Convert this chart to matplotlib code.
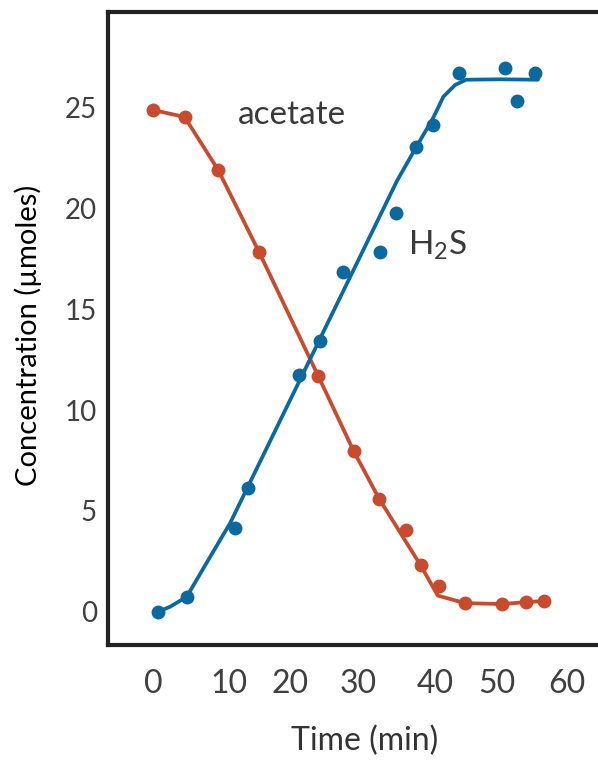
import numpy as np
import matplotlib
matplotlib.use("Agg")
import matplotlib.pyplot as plt

# measured points (time in min, concentration in umoles)
acetate_t = [0.0, 4.6, 9.5, 15.4, 23.96, 29.1, 32.8, 36.7, 38.8, 41.4, 45.2, 50.6, 54.1, 56.7]
acetate_c = [24.9, 24.55, 21.9, 17.84, 11.7, 7.97, 5.6, 4.05, 2.3, 1.3, 0.43, 0.38, 0.48, 0.53]

h2s_t = [0.77, 4.9, 11.9, 13.8, 21.2, 24.2, 27.6, 32.9, 35.3, 38.2, 40.6, 44.3, 51.0, 52.8, 55.4]
h2s_c = [0.0, 0.74, 4.14, 6.12, 11.75, 13.45, 16.87, 17.87, 19.77, 23.08, 24.15, 26.72, 26.97, 25.34, 26.72]

# hand drawn fit lines
acetate_fit_t = [0.0, 4.6, 9.5, 15.4, 23.96, 29.1, 32.8, 38.8, 41.3, 45.2, 50.6, 54.1, 56.7]
acetate_fit_c = [24.9, 24.55, 21.9, 17.84, 11.7, 7.97, 5.6, 2.3, 0.8, 0.43, 0.38, 0.48, 0.53]

h2s_fit_t = [0.77, 2.5, 4.9, 8.0, 11.2, 35.4, 38.2, 40.6, 42.1, 43.8, 45.4, 50.3, 55.8]
h2s_fit_c = [0.0, 0.25, 0.74, 2.55, 4.4, 21.4, 23.08, 24.49, 25.56, 26.14, 26.4, 26.42, 26.4]

x_tick_labels = ["0", "10", "20", "30", "40", "50", "60"]
y_ticks = [0, 5, 10, 15, 20, 25]

RED = "#c84b2d"
BLUE = "#0b69a0"

# labels are not evenly spaced on the original artwork
x_tick_pos = [0, 11.0, 19.9, 29.7, 40.9, 49.9, 60.0]

fig = plt.figure(figsize=(5.98, 7.62), dpi=100)
ax = fig.add_axes([108 / 598, 1 - 645 / 762, 490 / 598, 633 / 762])

ax.plot(acetate_fit_t, acetate_fit_c, color=RED, lw=2.7, solid_capstyle="round",
        solid_joinstyle="round")
ax.plot(acetate_t, acetate_c, "o", color=RED, ms=10, mec="none")
ax.plot(h2s_fit_t, h2s_fit_c, color=BLUE, lw=2.7, solid_capstyle="round",
        solid_joinstyle="round")
ax.plot(h2s_t, h2s_c, "o", color=BLUE, ms=10, mec="none")

ax.set_xlim(-6.5, 64.5)
ax.set_ylim(-1.65, 29.76)

for side in ["left", "top", "bottom"]:
    ax.spines[side].set_linewidth(3)
    ax.spines[side].set_color("#222222")
ax.spines["right"].set_visible(False)

ax.set_xticks(x_tick_pos)
ax.set_xticklabels(x_tick_labels, family="Lato", fontsize=23, color="#404040")
ax.set_yticks(y_ticks)
ax.set_yticklabels([str(v) for v in y_ticks], family="Lato", fontsize=20, color="#404040")
ax.tick_params(axis="x", length=0, pad=17)
ax.tick_params(axis="y", length=0, pad=8)

ax.set_xlabel("Time (min)", family="Lato", fontsize=23, color="#333333")
ax.xaxis.set_label_coords(0.5245, -0.1517)
ax.xaxis.label.set_va("center")
ax.set_ylabel("Concentration (\u00b5moles)", family="Lato", fontsize=21, color="black")
ax.yaxis.set_label_coords(-0.163, 0.4897)
ax.yaxis.label.set_va("center")

plt.rcParams["mathtext.fontset"] = "custom"
plt.rcParams["mathtext.rm"] = "Lato"
ax.text(20.1, 24.65, "acetate", family="Lato", fontsize=24, color="#3a3a3a",
        ha="center", va="center")
ax.text(36.9, 18.2, r"H$_\mathregular{2}$S", family="Lato", fontsize=24, color="#3a3a3a",
        ha="left", va="center")

fig.savefig("out.png", dpi=100)
